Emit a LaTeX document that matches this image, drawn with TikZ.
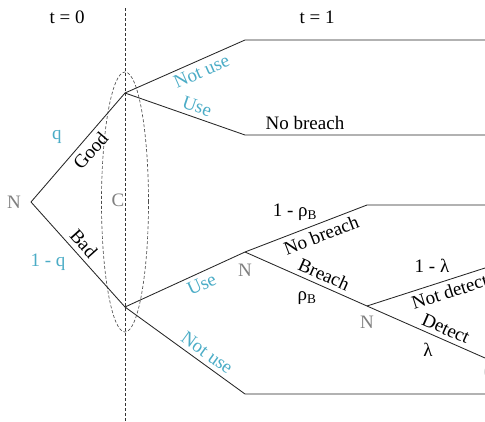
\documentclass[tikz,border=0pt]{standalone}
\usepackage{fontspec}
\setmainfont{Liberation Serif}
\usetikzlibrary{shapes.geometric}
\definecolor{teal1}{HTML}{4BACC6}
\definecolor{nodegray}{HTML}{7F7F7F}
\tikzset{
  br/.style={draw=black!85, line width=0.85pt},
  tl/.style={font=\fontsize{19}{21}\selectfont, text=teal1, inner sep=2pt},
  bl/.style={font=\fontsize{19}{21}\selectfont, text=black, inner sep=2pt},
  gl/.style={font=\fontsize{19}{21}\selectfont, text=nodegray, inner sep=1pt},
  sl/.style={sloped, inner sep=4.5pt},
}
\begin{document}
\begin{tikzpicture}[x=1pt,y=-1pt]
\useasboundingbox (0,0) rectangle (485,421);
\clip (0,0) rectangle (485,421);
% coordinates
\coordinate (r) at (31,202);
\coordinate (g) at (125,93);
\coordinate (b) at (125,307);
\coordinate (a1) at (245,40);  \coordinate (a1e) at (485,40);
\coordinate (a2) at (245,135); \coordinate (a2e) at (485,135);
\coordinate (n1) at (245,252);
\coordinate (b2) at (245,394); \coordinate (b2e) at (485,394);
\coordinate (c1) at (367,205); \coordinate (c1e) at (485,205);
\coordinate (n2) at (367,306);
\coordinate (d1) at (485,268);
\coordinate (d2) at (485,358);
\coordinate (vt) at (125,8);
\coordinate (vb) at (125,421);
% time divider and information set
\draw[black!80, line width=0.7pt, dash pattern=on 3pt off 2pt] (vt) -- (vb);
\node[draw=black!70, line width=0.65pt, dash pattern=on 3pt off 2pt, ellipse, minimum width=47pt, minimum height=260pt, inner sep=0pt] (ell) at (125,202) {};
% first move by nature
\draw[br] (r) -- node[bl, sl, below, pos=0.54] {Good} (g);
\draw[br] (r) -- node[bl, sl, above, pos=0.47] {Bad} (b);
% good type
\draw[br] (g) -- node[tl, sl, below, pos=0.6] {Not use} (a1) -- (a1e);
\draw[br] (g) -- node[tl, sl, above, pos=0.57] {Use} (a2) -- node[bl, sl, above, pos=0.25] {No breach} (a2e);
% bad type
\draw[br] (b) -- node[tl, sl, below, pos=0.6] {Use} (n1);
\draw[br] (b) -- node[tl, sl, above, pos=0.63] {Not use} (b2) -- (b2e);
\draw[br] (n1) -- node[bl, sl, below, pos=0.59] {No breach} (c1) -- (c1e);
\draw[br] (n1) -- node[bl, sl, above, pos=0.61] {Breach} (n2);
\draw[br] (n2) -- node[bl, sl, below, pos=0.67] {Not detect} (d1);
\draw[br] (n2) -- node[bl, sl, above, pos=0.63] {Detect} (d2);
% node labels
\node[gl] (nr) at (14,202) {N};
\node[gl] (cl) at (118,200) {C};
\node[gl] (n1l) at (245,270) {N};
\node[gl] (n2l) at (367,322) {N};
\node[gl, text=black!20] (cr) at (490,372) {C};
% probabilities
\node[tl] (q) at (57,137) {q};
\node[tl] (q1) at (48,262) {1 - q};
\node[bl] (p1) at (295,212) {1 - ρ\textsubscript{B}};
\node[bl] (p2) at (307,298) {ρ\textsubscript{B}};
\node[bl] (l1) at (432,266) {1 - λ};
\node[bl] (l2) at (428,350) {λ};
% time labels
\node[bl] (t0) at (67,17) {t = 0};
\node[bl] (t1) at (317,17) {t = 1};
\end{tikzpicture}
\end{document}
